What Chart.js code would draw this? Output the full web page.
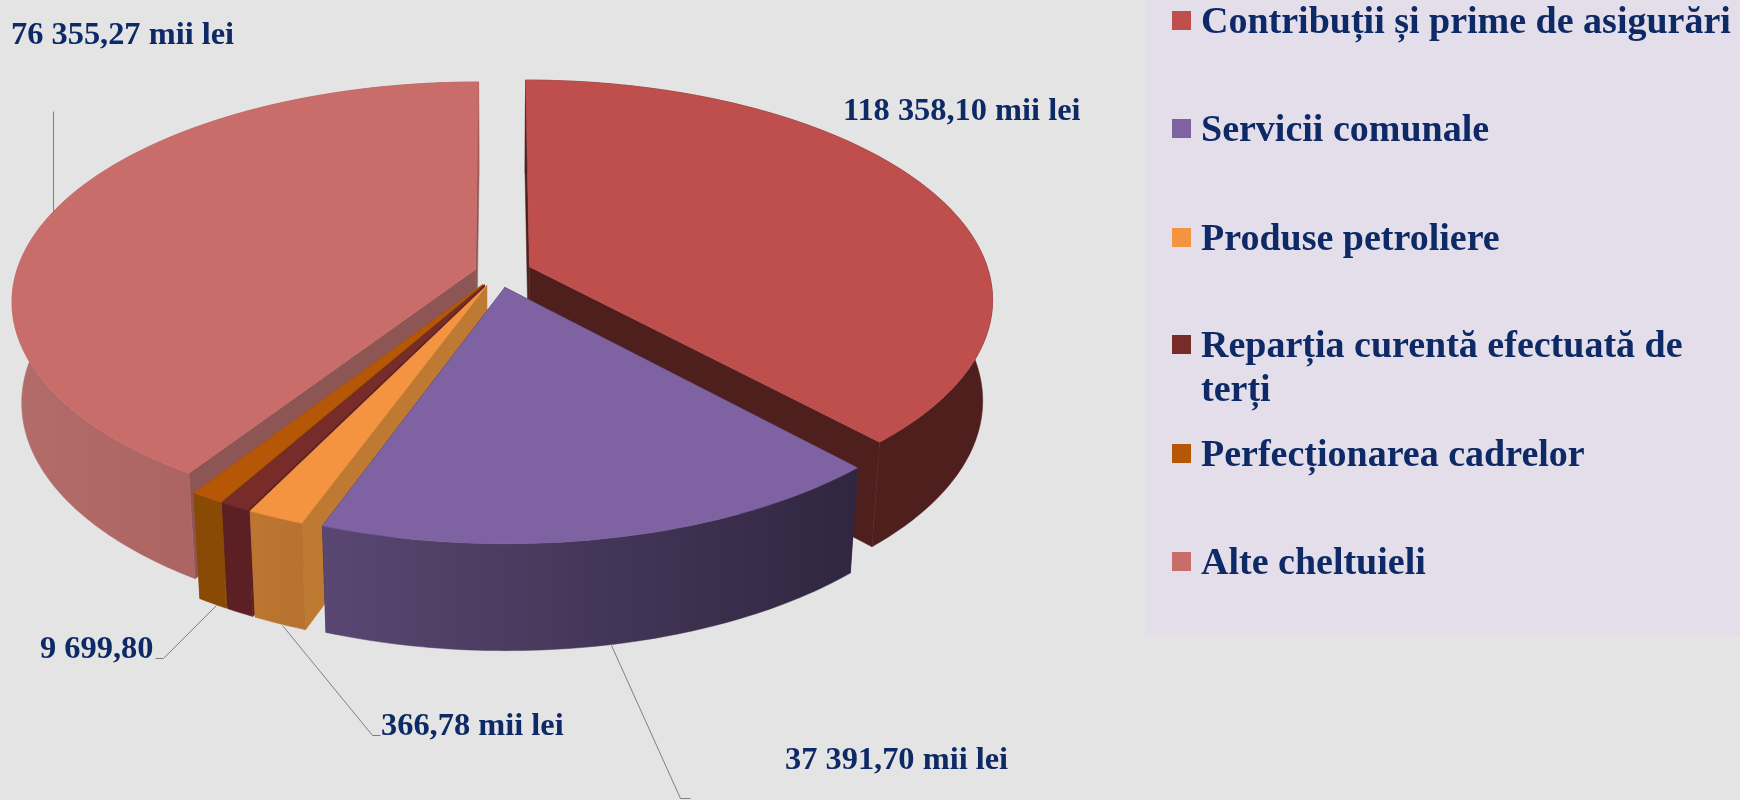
<!DOCTYPE html>
<html lang="ro">
<head>
<meta charset="utf-8">
<title>Cheltuieli</title>
<script src="https://cdn.jsdelivr.net/npm/chart.js@4"></script>
<style>
html,body{margin:0;padding:0;background:#E4E4E4;width:1740px;height:800px;overflow:hidden}
#wrap{position:relative;width:1740px;height:800px}
#legendBox{position:absolute;left:1146px;top:0;width:594px;height:635px;background:#E3DEEA}
canvas{position:absolute;left:0;top:0}
.t{position:absolute;font-family:"Liberation Serif","Times New Roman",serif;font-weight:bold;color:#0E2A66;line-height:1;white-space:pre}
.m{position:absolute;width:19px;height:19px}
</style>
</head>
<body>
<div id="wrap">
<div id="legendBox"></div>
<canvas id="c" width="1740" height="800"></canvas>
</div>
<script>
const categories = ["Contribuții și prime de asigurări","Servicii comunale","Produse petroliere","Reparția curentă efectuată de terți","Perfecționarea cadrelor","Alte cheltuieli"];
// shares of the circle
const sliceShares = [38.15,17.40,1.72,0.90,1.00,40.83];
const valueLabels = ["118 358,10 mii lei","37 391,70 mii lei","366,78 mii lei",null,"9 699,80","76 355,27 mii lei"];

const topColors = ["#BE4F4D","#7F62A1","#F59440","#772C2A","#B65708","#C96D6B"];
const outerLeft = ["#4E1F1D","#594772","#BC7630","#5C2024","#884A04","#B26C6A"];
const outerRight= ["#4E1F1D","#302640","#B87230","#5C2024","#884A04","#A25856"];
const cutColors = ["#4E1F1D","#302640","#BE7A32","#5C2024","#884A04","#8E5555"];
const offsetsPx = [28,27,25,25,25,20];

const view = {cx:498.5, cy:272.5, scale:459.5, tilt:27.9*Math.PI/180, dist:6.18, wall:100, wallGrow:0.065, narrow:0.02};
const labelPos = [[843,120],[785,769],[381,735],null,[40,658],[11,44]];
const labelSize = 32.4;
const legendRows = [["Contribuții și prime de asigurări",33,0],["Servicii comunale",141,1],["Produse petroliere",250,2],["Reparția curentă efectuată de",357,3],["terți",401,-1],["Perfecționarea cadrelor",466,4],["Alte cheltuieli",574,5]];
const legendSize = 38;
const leaders = [
  [[53,111],[53,212]],
  [[611,645],[680,798],[690,798]],
  [[282,625],[372,735],[380,735]],
  [[216,605],[163,658],[155,658]]
];

function projectTop(X,Y){
  const c=Math.cos(view.tilt), s=Math.sin(view.tilt), f=view.scale*view.dist;
  const D=view.dist-Y*c;
  return [view.cx+f*X/D, view.cy+f*Y*s/D];
}
function projectBottom(X,Y){
  const p=projectTop(X,Y);
  return [view.cx+(p[0]-view.cx)*(1-view.narrow), p[1]+view.wall*(1+view.wallGrow*Y)];
}
function poly(ctx,pts,fill){
  ctx.beginPath();
  pts.forEach((p,i)=>i?ctx.lineTo(p[0],p[1]):ctx.moveTo(p[0],p[1]));
  ctx.closePath();
  ctx.fillStyle=fill; ctx.fill();
  ctx.strokeStyle=fill; ctx.lineWidth=0.5; ctx.stroke();
}
const pie3d = {
  id:'pie3d',
  beforeDraw(chart){
    const ctx=chart.ctx; ctx.save();
    ctx.strokeStyle='#7F7F7F'; ctx.lineWidth=1;
    leaders.forEach(l=>{ctx.beginPath();l.forEach((p,i)=>i?ctx.lineTo(p[0]+.5,p[1]+.5):ctx.moveTo(p[0]+.5,p[1]+.5));ctx.stroke();});
    ctx.restore();
  },
  beforeDatasetDraw(chart,args){
    const ctx=chart.ctx, els=args.meta.data;
    const parts=els.map((el,i)=>{
      const p=el.getProps(['startAngle','endAngle','outerRadius'],true);
      const mid=(p.startAngle+p.endAngle)/2, off=el.options.offset/p.outerRadius;
      return {i,mid,a0:p.startAngle,a1:p.endAngle,ox:Math.cos(mid)*off,oy:Math.sin(mid)*off};
    }).sort((a,b)=>Math.sin(a.mid)-Math.sin(b.mid));
    ctx.save();
    parts.forEach(q=>{
      const n=Math.max(4,Math.ceil((q.a1-q.a0)*180/Math.PI));
      const top=[],bot=[];
      for(let k=0;k<=n;k++){
        const a=q.a0+(q.a1-q.a0)*k/n, X=q.ox+Math.cos(a), Y=q.oy+Math.sin(a);
        top.push(projectTop(X,Y)); bot.push(projectBottom(X,Y));
      }
      const ct=projectTop(q.ox,q.oy), cb=projectBottom(q.ox,q.oy);
      poly(ctx,[ct,top[0],bot[0],cb],cutColors[q.i]);
      poly(ctx,[ct,top[n],bot[n],cb],cutColors[q.i]);
      const xs=top.concat(bot).map(p=>p[0]);
      const g=ctx.createLinearGradient(Math.min(...xs),0,Math.max(...xs),0);
      g.addColorStop(0,outerLeft[q.i]); g.addColorStop(1,outerRight[q.i]);
      poly(ctx,top.concat(bot.slice().reverse()),g);
      poly(ctx,[ct].concat(top),els[q.i].options.backgroundColor);
    });
    ctx.restore();
    return false;
  }
};
new Chart(document.getElementById('c'),{
  type:'pie',
  data:{labels:categories,datasets:[{data:sliceShares,backgroundColor:topColors,offset:offsetsPx,borderWidth:0}]},
  options:{responsive:false,animation:false,events:[],devicePixelRatio:1,
    plugins:{legend:{display:false},tooltip:{enabled:false}}},
  plugins:[pie3d]
});
const wrap=document.getElementById('wrap');
function addText(str,x,base,size){
  const d=document.createElement('div');d.className='t';d.textContent=str;
  d.style.left=x+'px';d.style.top=(base-0.8375*size)+'px';d.style.fontSize=size+'px';
  wrap.appendChild(d);return d;
}
valueLabels.forEach((s,i)=>{if(s)addText(s,labelPos[i][0],labelPos[i][1],labelSize);});
legendRows.forEach(r=>{
  addText(r[0],1201,r[1],legendSize);
  if(r[2]>=0){
    const m=document.createElement('div');m.className='m';m.style.left='1172px';m.style.top=(r[1]-22)+'px';
    m.style.background=topColors[r[2]];wrap.appendChild(m);
  }
});
</script>
</body>
</html>
